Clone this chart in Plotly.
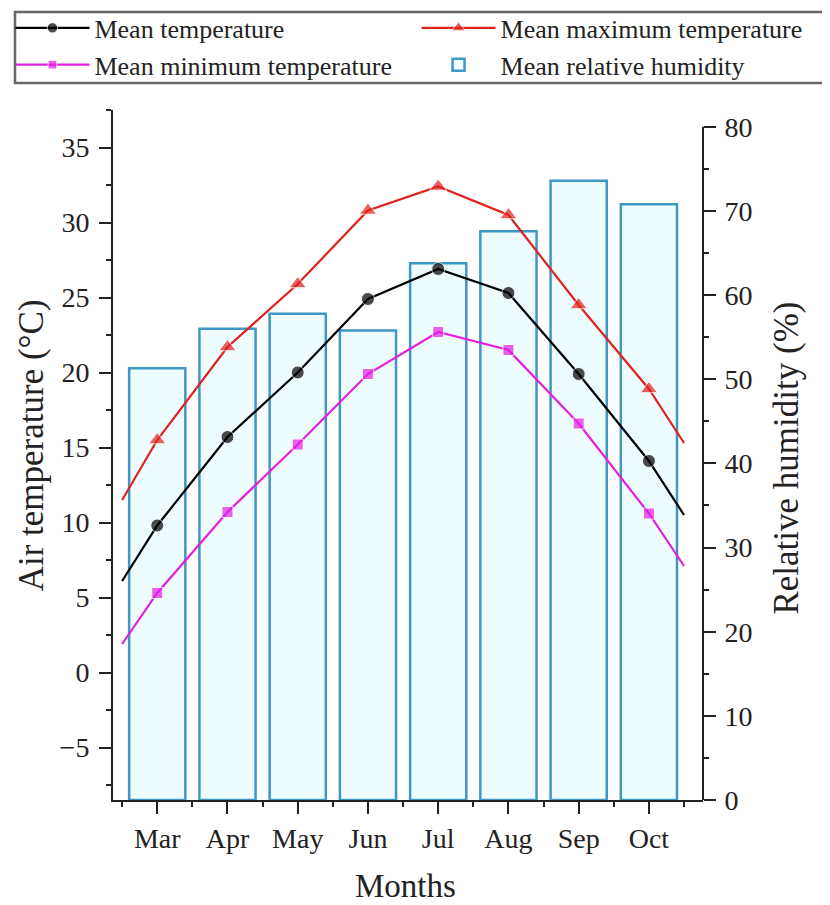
import plotly.graph_objects as go

months = ["Mar", "Apr", "May", "Jun", "Jul", "Aug", "Sep", "Oct"]
mean_temp = [9.8, 15.7, 20.0, 24.9, 26.9, 25.3, 19.9, 14.1]
max_temp = [15.5, 21.7, 25.9, 30.8, 32.4, 30.5, 24.5, 18.9]
min_temp = [5.3, 10.7, 15.2, 19.9, 22.7, 21.5, 16.6, 10.6]
humidity = [51.3, 56.0, 57.8, 55.8, 63.8, 67.6, 73.6, 70.8]
# line values where the curves meet the ends of the x range (half a month out)
edge_x = [-0.5, 7.5]
mean_edge = [6.1, 10.5]
max_edge = [11.5, 15.3]
min_edge = [1.9, 7.1]

x_title = "Months"
y_left_title = "Air temperature (°C)"
y_right_title = "Relative humidity (%)"

xpos = list(range(len(months)))
font_fam = "Liberation Serif, Times New Roman, serif"
ink = "#222"

def line_xy(vals, edge):
    return [edge_x[0]] + xpos + [edge_x[1]], [edge[0]] + vals + [edge[1]]

def sizes(s):
    return [0] + [s] * len(months) + [0]

fig = go.Figure()
fig.add_trace(go.Bar(
    x=xpos, y=humidity, width=0.8, yaxis="y", name="Mean relative humidity",
    marker=dict(color="rgba(225,250,255,0.6)", line=dict(color="#3f97c6", width=2.5)),
    legend="legend2", legendrank=2,
))
series = [
    ("Mean temperature", mean_temp, mean_edge, "black", "circle", 13, "legend", 1),
    ("Mean maximum temperature", max_temp, max_edge, "#e0211c", "triangle-up", 15, "legend2", 1),
    ("Mean minimum temperature", min_temp, min_edge, "#e41fe0", "square", 11, "legend", 2),
]
for name, vals, edge, col, sym, s, leg, rank in series:
    xx, yy = line_xy(vals, edge)
    fig.add_trace(go.Scatter(
        x=xx, y=yy, yaxis="y2", name=name, mode="lines+markers",
        line=dict(color=col, width=2.2),
        marker=dict(color=col, symbol=sym, size=sizes(s)),
        legend=leg, legendrank=rank,
    ))

tick_font = dict(family=font_fam, size=28, color=ink)
legend_common = dict(
    orientation="v", xref="container", yref="paper", y=1.153,
    xanchor="left", yanchor="top", itemwidth=74,
    borderwidth=0, bgcolor="rgba(0,0,0,0)",
    font=dict(family=font_fam, size=26, color=ink), tracegroupgap=0,
)
fig.update_layout(
    width=822, height=897,
    margin=dict(l=105, r=127, t=102, b=105, autoexpand=False),
    paper_bgcolor="white", plot_bgcolor="white",
    font=dict(family=font_fam, color=ink),
    barmode="overlay",
    xaxis=dict(
        range=[-0.63, 7.77], tickmode="array", tickvals=xpos, ticktext=months,
        ticks="outside", ticklen=12, tickwidth=2, tickcolor=ink,
        minor=dict(tickmode="linear", tick0=-0.5, dtick=1, ticks="outside", ticklen=5, tickwidth=2, tickcolor=ink),
        showline=True, linecolor=ink, linewidth=2, showgrid=False, zeroline=False,
        tickfont=tick_font, anchor="y",
    ),
    yaxis=dict(
        side="right", range=[0, 82], tickmode="linear", tick0=0, dtick=10,
        ticks="outside", ticklen=12, tickwidth=2, tickcolor=ink,
        minor=dict(dtick=5, ticks="outside", ticklen=5, tickwidth=2, tickcolor=ink),
        showline=False, showgrid=False, zeroline=False,
        tickfont=tick_font, ticklabelstandoff=3,
    ),
    yaxis2=dict(
        side="left", overlaying="y", range=[-8.5, 37.5], tickmode="linear", tick0=0, dtick=5,
        ticks="outside", ticklen=12, tickwidth=2, tickcolor=ink,
        minor=dict(dtick=2.5, ticks="outside", ticklen=5, tickwidth=2, tickcolor=ink),
        showline=True, linecolor=ink, linewidth=2, showgrid=False, zeroline=False,
        tickfont=tick_font, ticklabelstandoff=4,
    ),
    legend=dict(x=0.003, **legend_common),
    legend2=dict(x=0.497, **legend_common),
    annotations=[
        dict(text=x_title, xref="paper", yref="paper", x=0.495, y=-0.125, showarrow=False,
             font=dict(family=font_fam, size=33, color=ink), xanchor="center", yanchor="middle"),
        dict(text=y_left_title, xref="paper", yref="paper", x=-0.139, y=0.514, showarrow=False,
             textangle=-90, font=dict(family=font_fam, size=35, color=ink), xanchor="center", yanchor="middle"),
        dict(text=y_right_title, xref="paper", yref="paper", x=1.142, y=0.496, showarrow=False,
             textangle=-90, font=dict(family=font_fam, size=35, color=ink), xanchor="center", yanchor="middle"),
    ],
    shapes=[
        dict(type="line", xref="paper", x0=1, x1=1, yref="y", y0=0, y1=80,
             line=dict(color=ink, width=2)),
        dict(type="rect", xref="paper", yref="paper", x0=-0.1661, x1=1.2119, y0=1.0391, y1=1.142,
             line=dict(color="#666", width=2.5), fillcolor="rgba(0,0,0,0)"),
    ],
)
fig.write_html("out.html")
